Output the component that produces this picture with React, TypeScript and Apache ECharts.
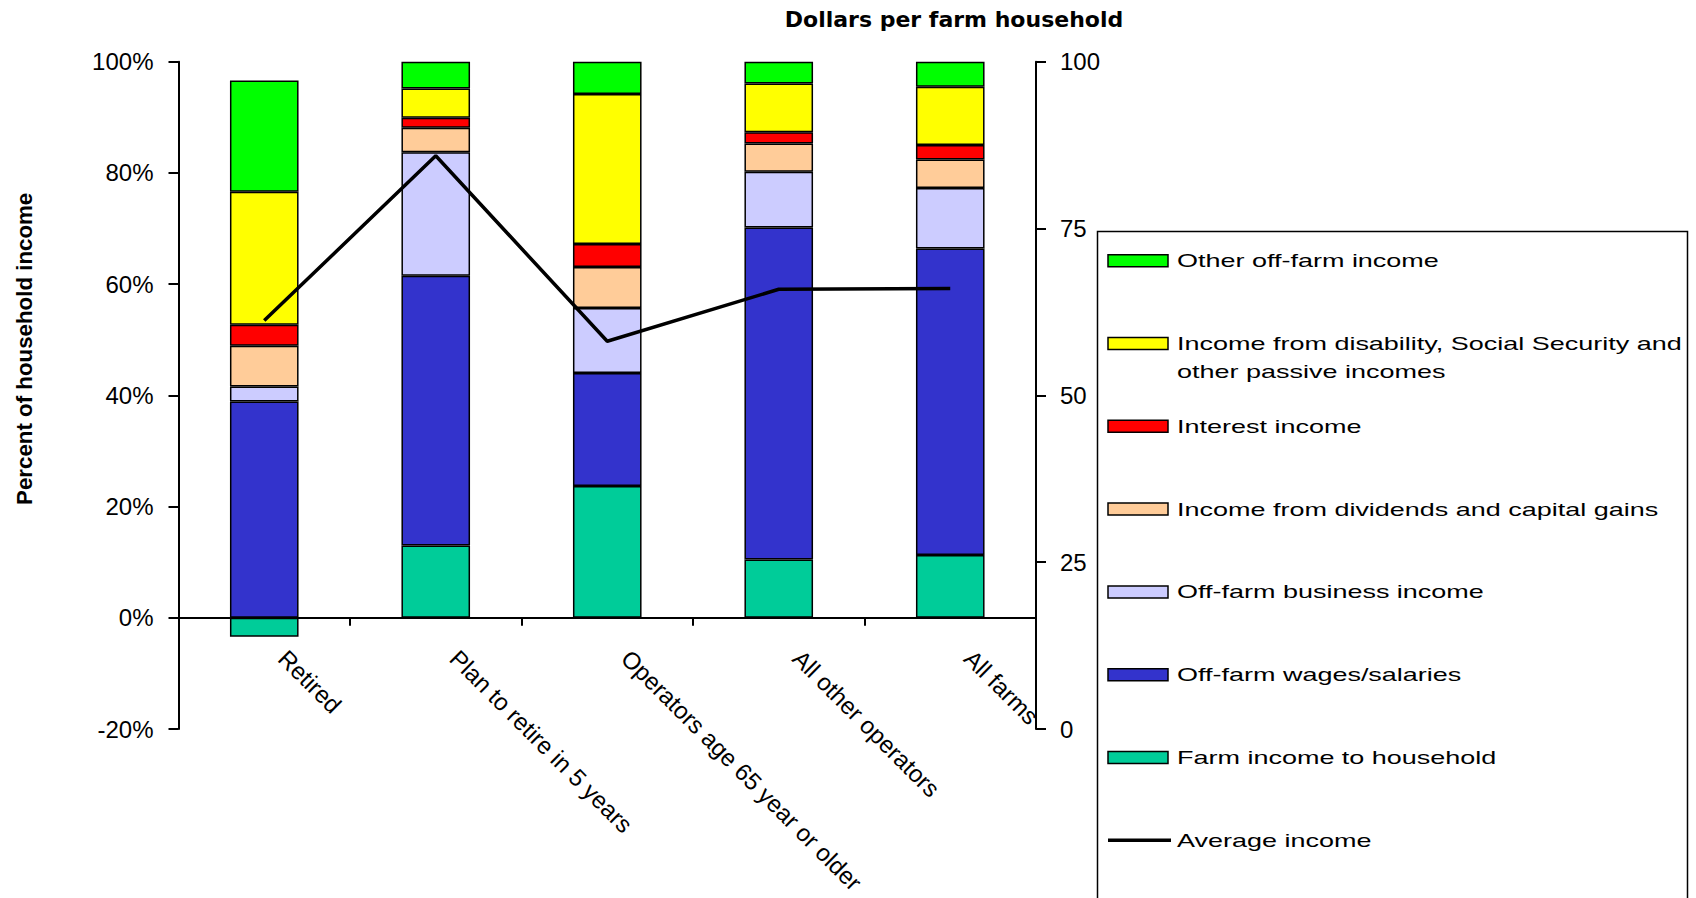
import React, { useEffect, useRef } from 'react';
import * as echarts from 'echarts';

// Farm household groups (category axis)
const categories = [
  'Retired',
  'Plan to retire in 5 years',
  'Operators age 65 year or older',
  'All other operators',
  'All farms',
];

// Shares of household income, percent (stacked bottom to top)
const farmIncome = [-3.4, 13.0, 23.7, 10.5, 11.3];
const offFarmWages = [38.9, 48.5, 20.3, 59.7, 55.1];
const offFarmBusiness = [2.7, 22.2, 11.7, 10.0, 10.9];
const dividendsCapitalGains = [7.3, 4.4, 7.4, 5.1, 5.1];
const interestIncome = [3.8, 1.8, 4.1, 2.0, 2.6];
const passiveIncome = [23.9, 5.3, 27.0, 8.8, 10.5];
const otherOffFarm = [20.0, 4.8, 5.8, 3.9, 4.5];

// Average income, dollars per farm household (right axis)
const averageIncome = [61.2, 85.9, 58.1, 65.9, 66.0];

const leftTicks = { min: -20, max: 100, interval: 20 };
const rightTicks = { min: 0, max: 100, interval: 25 };

const stackSeries = [
  { name: 'Farm income to household', data: farmIncome, color: '#00CC99' },
  { name: 'Off-farm wages/salaries', data: offFarmWages, color: '#3333CC' },
  { name: 'Off-farm business income', data: offFarmBusiness, color: '#CCCCFF' },
  { name: 'Income from dividends and capital gains', data: dividendsCapitalGains, color: '#FFCC99' },
  { name: 'Interest income', data: interestIncome, color: '#FF0000' },
  {
    name: 'Income from disability, Social Security and other passive incomes',
    label: 'Income from disability, Social Security and\nother passive incomes',
    data: passiveIncome,
    color: '#FFFF00',
  },
  { name: 'Other off-farm income', data: otherOffFarm, color: '#00FF00' },
];
const lineName = 'Average income';

const FONT = 'Liberation Sans';

// Plot geometry
const GRID_LEFT = 178.5;
const GRID_RIGHT = 660;
const GRID_TOP = 61.7;
const GRID_BOTTOM = 169;
const PLOT_HEIGHT = 898 - GRID_TOP - GRID_BOTTOM;
// distance from the plot bottom (-20%) up to the 0% line
const ZERO_OFFSET = (PLOT_HEIGHT * (0 - leftTicks.min)) / (leftTicks.max - leftTicks.min);

function buildLegend() {
  const elements: any[] = [];
  const boxX = 1097.5;
  const boxY = 231.5;
  elements.push({
    type: 'rect',
    shape: { x: boxX, y: boxY, width: 590, height: 720 },
    style: { fill: '#fff', stroke: '#000', lineWidth: 1.5 },
    z: 10,
  });
  const rows = [...stackSeries].reverse();
  const firstY = 260.7;
  const step = 82.8;
  const textX = 1177;
  const addText = (text: string, cy: number) => {
    elements.push({
      type: 'text',
      x: textX,
      y: cy - 14,
      scaleX: 1.42,
      z: 11,
      style: {
        text,
        x: 0,
        y: 0,
        fill: '#000',
        fontSize: 19,
        fontFamily: FONT,
        lineHeight: 28,
        align: 'left',
        verticalAlign: 'top',
      },
    });
  };
  rows.forEach((s, i) => {
    const cy = firstY + i * step;
    elements.push({
      type: 'rect',
      shape: { x: 1108, y: cy - 6, width: 60, height: 12 },
      style: { fill: s.color, stroke: '#000', lineWidth: 1.5 },
      z: 11,
    });
    addText((s as any).label || s.name, cy);
  });
  const ly = firstY + rows.length * step;
  elements.push({
    type: 'line',
    shape: { x1: 1108, y1: ly, x2: 1171, y2: ly },
    style: { stroke: '#000', lineWidth: 3.5 },
    z: 11,
  });
  addText(lineName, ly);
  return elements;
}

export default function App() {
  const ref = useRef<HTMLDivElement>(null);

  useEffect(() => {
    if (!ref.current) return;
    const chart = echarts.init(ref.current, undefined, { renderer: 'svg' });

    const axisLineStyle = { color: '#000', width: 2 };
    const tickLabel = { color: '#000', fontSize: 24, fontFamily: FONT };

    const option: any = {
      animation: false,
      backgroundColor: '#fff',
      title: {
        text: 'Dollars per farm household',
        left: 949,
        top: 3,
        textAlign: 'center',
        textStyle: { fontFamily: 'DejaVu Sans', fontWeight: 'bold', fontSize: 22, color: '#000' },
      },
      grid: {
        left: GRID_LEFT,
        right: GRID_RIGHT,
        top: GRID_TOP,
        bottom: GRID_BOTTOM,
        containLabel: false,
        outerBoundsMode: 'none',
      },
      xAxis: [
        {
          // axis line and ticks on the 0% line
          type: 'category',
          data: categories,
          position: 'bottom',
          axisLine: { show: true, onZero: true, onZeroAxisIndex: 0, lineStyle: axisLineStyle },
          axisTick: { show: true, interval: 0, length: 8, lineStyle: axisLineStyle },
          axisLabel: { show: false, interval: 0 },
          splitLine: { show: false },
        },
        {
          // category labels hanging below the 0% line
          type: 'category',
          data: categories,
          position: 'bottom',
          offset: -ZERO_OFFSET,
          axisLine: { show: false, onZero: false },
          axisTick: { show: false },
          axisLabel: {
            interval: 0,
            rotate: -45,
            margin: 18,
            padding: [0, 0, 0, 26],
            color: '#000',
            fontSize: 24,
            fontFamily: FONT,
            hideOverlap: false,
          },
          splitLine: { show: false },
        },
      ],
      yAxis: [
        {
          type: 'value',
          position: 'left',
          ...leftTicks,
          axisLine: { show: true, onZero: false, lineStyle: axisLineStyle },
          axisTick: { show: true, length: 10, lineStyle: axisLineStyle },
          axisLabel: { ...tickLabel, margin: 25, formatter: '{value}%' },
          splitLine: { show: false },
          name: 'Percent of household income',
          nameLocation: 'middle',
          nameRotate: 90,
          nameGap: 143,
          nameTextStyle: {
            color: '#000',
            fontSize: 22.3,
            fontWeight: 'bold',
            fontFamily: FONT,
            padding: [0, 0, 0, 93],
          },
        },
        {
          type: 'value',
          position: 'right',
          ...rightTicks,
          axisLine: { show: true, onZero: false, lineStyle: axisLineStyle },
          axisTick: { show: true, length: 10, lineStyle: axisLineStyle },
          axisLabel: { ...tickLabel, margin: 24 },
          splitLine: { show: false },
        },
      ],
      series: [
        ...stackSeries.map((s) => ({
          name: s.name,
          type: 'bar',
          stack: 'income',
          barWidth: '40%',
          xAxisIndex: 0,
          yAxisIndex: 0,
          data: s.data,
          itemStyle: { color: s.color, borderColor: '#000', borderWidth: 1.5 },
        })),
        {
          name: lineName,
          type: 'line',
          xAxisIndex: 0,
          yAxisIndex: 1,
          data: averageIncome,
          symbol: 'none',
          z: 5,
          lineStyle: { color: '#000', width: 3.5 },
        },
      ],
      graphic: buildLegend(),
    };

    chart.setOption(option);
    return () => chart.dispose();
  }, []);

  return (
    <div
      ref={ref}
      style={{ position: 'fixed', left: 0, top: 0, width: 1696, height: 898, background: '#fff' }}
    />
  );
}
